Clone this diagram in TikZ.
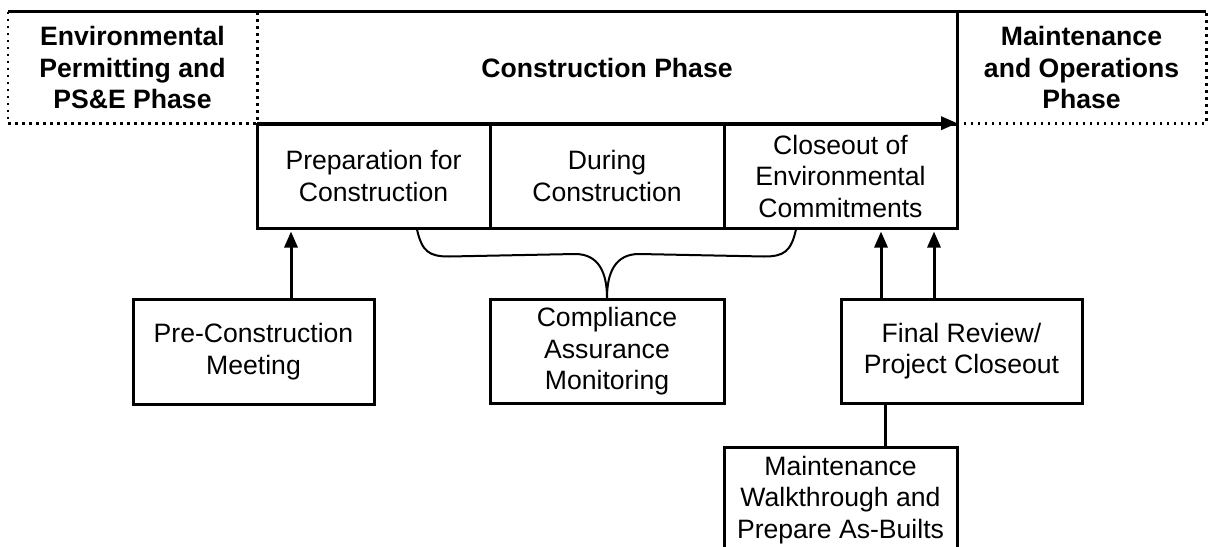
\documentclass[tikz,border=0pt]{standalone}
\usepackage{fontspec}
\setmainfont{Liberation Sans}
\usetikzlibrary{arrows.meta,calc}
\tikzset{
  ln/.style={line width=3pt},
  boxnode/.style={draw, line width=3pt, align=center, inner sep=0pt, font=\fontsize{26.6}{31.5}\selectfont},
  phasenode/.style={align=center, inner sep=0pt, font=\fontsize{26.6}{31.5}\selectfont\bfseries},
  dotln/.style={line width=2.6pt, dash pattern=on 2.6pt off 4.4pt},
  arr/.style={line width=3pt, -{Triangle[length=16pt,width=13pt]}},
  bracel/.style={line width=2pt}
}
\begin{document}
\begin{tikzpicture}[x=1pt,y=-1pt]
\useasboundingbox (0,0) rectangle (1209,546);
\clip (0,0) rectangle (1209,546);
% phase headers
\node[phasenode, minimum width=249pt, minimum height=111pt] (env) at (132.5,67.5) {Environmental\\Permitting and\\PS\&E Phase};
\node[phasenode, minimum width=700pt, minimum height=111pt] (cons) at (607,67.5) {Construction Phase};
\node[phasenode, minimum width=249pt, minimum height=111pt] (mo) at (1081.5,67.5) {Maintenance\\and Operations\\Phase};
% sub-phase boxes
\node[boxnode, minimum width=233pt, minimum height=104pt] (prep) at (373.5,176) {Preparation for\\Construction};
\node[boxnode, minimum width=234pt, minimum height=104pt] (dur) at (607,176) {During\\Construction};
\node[boxnode, minimum width=233pt, minimum height=104pt] (close) at (840.5,176) {Closeout of\\Environmental\\Commitments};
% header borders
\draw[dotln] (env.north west) -- (env.south west) -- (env.south east) -- (env.north east);
\draw[dotln] (mo.south west) -- (mo.south east) -- (mo.north east);
\draw[ln] (env.north west) -- (mo.north east);
\draw[ln] (cons.north east) -- (cons.south east);
\draw[arr] (cons.south west) -- (cons.south east);
% lower boxes
\node[boxnode, minimum width=241pt, minimum height=105pt] (pre) at (253.5,351.5) {Pre-Construction\\Meeting};
\node[boxnode, minimum width=234pt, minimum height=104pt] (comp) at (607,351.5) {Compliance\\Assurance\\Monitoring};
\node[boxnode, minimum width=241pt, minimum height=104pt] (fin) at (961.5,351) {Final Review/\\Project Closeout};
\node[boxnode, minimum width=233pt, minimum height=106pt] (mw) at (840.5,500) {Maintenance\\Walkthrough and\\Prepare As-Builts};
% arrows
\coordinate (pa) at ($(pre.north)+(37.5,0)$);
\draw[arr, shorten >=2pt] (pa) -- (pa |- prep.south);
\coordinate (fa) at ($(fin.north)+(-80.5,0)$);
\coordinate (fb) at ($(fin.north)+(-27.5,0)$);
\draw[arr, shorten >=2pt] (fa) -- (fa |- close.south);
\draw[arr, shorten >=2pt] (fb) -- (fb |- close.south);
\coordinate (fc) at ($(fin.south)+(-76.5,0)$);
\draw[ln] (fc) -- (fc |- mw.north);
% brace
\coordinate (bl) at ($(prep.south)+(43.5,0)$);
\coordinate (br) at ($(close.south)+(-44.5,0)$);
\coordinate (bm) at (comp.north);
\draw[bracel] (bl) .. controls ($(bl)+(5,22)$) and ($(bl)+(12,27)$) .. ($(bl)+(32,27)$)
  -- ($(bm)+(-32,-44)$) .. controls ($(bm)+(-8,-44)$) and ($(bm)+(0,-25)$) .. (bm);
\draw[bracel] (bm) .. controls ($(bm)+(0,-25)$) and ($(bm)+(8,-44)$) .. ($(bm)+(32,-44)$)
  -- ($(br)+(-32,27)$) .. controls ($(br)+(-12,27)$) and ($(br)+(-5,22)$) .. (br);
\end{tikzpicture}
\end{document}
